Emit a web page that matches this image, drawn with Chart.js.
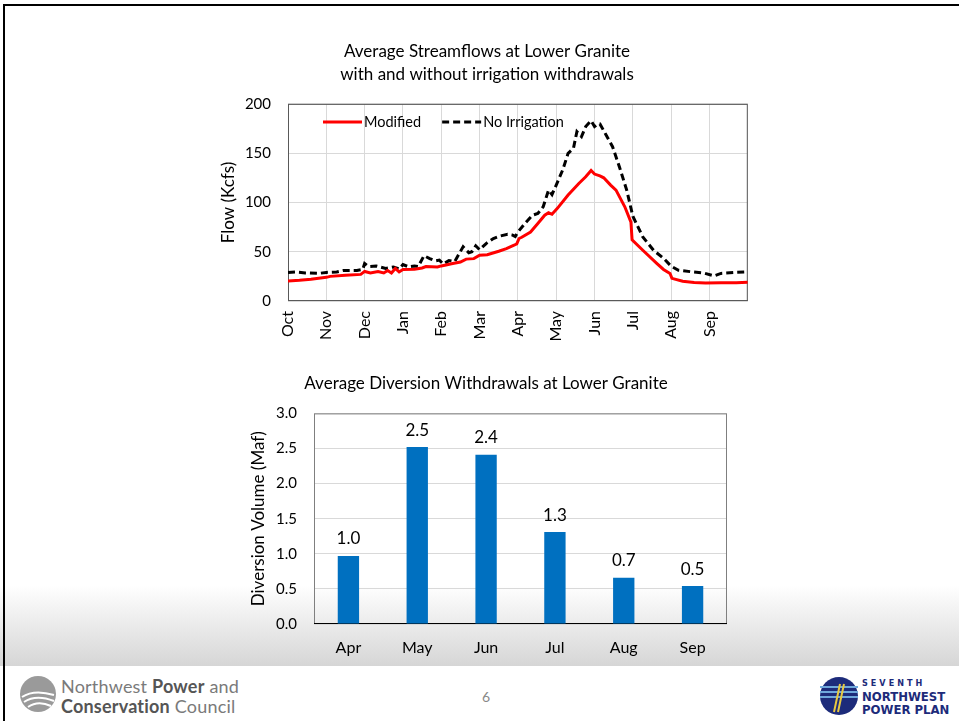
<!DOCTYPE html>
<html>
<head>
<meta charset="utf-8">
<script src="https://cdn.jsdelivr.net/npm/chart.js@4.4.1/dist/chart.umd.min.js"></script>
<style>
    body { margin: 0; background: #fff; }
    #slide { position: relative; width: 959px; height: 721px; overflow: hidden; background: #fff; font-family: Lato, "Open Sans", sans-serif; }
    #shade { position: absolute; left: 0; top: 585px; width: 959px; height: 81px; background: linear-gradient(#ffffff, #d6d6d6); }
    #edgeTop { position: absolute; left: 3px; top: 4px; width: 956px; height: 2px; background: #000; }
    #edgeLeft { position: absolute; left: 3px; top: 4px; width: 2px; height: 717px; background: #000; }
    #flowBox { position: absolute; left: 217px; top: 30px; }
    #diversionBox { position: absolute; left: 245px; top: 365px; }
    #council { position: absolute; left: 61px; top: 676px; font-size: 18px; line-height: 20px; color: #7a7a7a; letter-spacing: 0.2px; }
    #council b { color: #555; }
    #pageNo { position: absolute; left: 482px; top: 688px; font-size: 14px; color: #888; }
    #planText { position: absolute; left: 862px; top: 677px; color: #1d2b7a; font-family: "Liberation Sans Narrow", "DejaVu Sans Condensed", sans-serif; font-weight: bold; line-height: 13px; }
</style>
</head>
<body>
<div id="slide">
    <div id="shade"></div>
    <div id="edgeTop"></div>
    <div id="edgeLeft"></div>

    <div id="flowBox"><canvas id="flowChart" width="560" height="340"></canvas></div>
    <div id="diversionBox"><canvas id="diversionChart" width="495" height="300"></canvas></div>

    <svg style="position:absolute;left:18px;top:673px" width="40" height="42">
        <circle cx="20" cy="21" r="18" fill="#9a9a9a"/>
        <path d="M4 24 Q16 16 36 22" stroke="#fff" stroke-width="2" fill="none"/>
        <path d="M6 29 Q18 21 36 28" stroke="#fff" stroke-width="2" fill="none"/>
        <path d="M10 34 Q20 27 33 33" stroke="#fff" stroke-width="2" fill="none"/>
    </svg>
    <div id="council"><div>Northwest <b>Power</b> and</div><div><b>Conservation</b> Council</div></div>
    <div id="pageNo">6</div>

    <svg style="position:absolute;left:818px;top:674px" width="42" height="44">
        <circle cx="21" cy="22" r="19" fill="#1d2b7a"/>
        <rect x="2" y="12" width="38" height="2" fill="#6fa8dc"/>
        <rect x="2" y="17" width="38" height="2" fill="#6fa8dc"/>
        <rect x="2" y="22" width="38" height="2" fill="#6fa8dc"/>
        <path d="M22 10 L16 38 M26 10 L20 38" stroke="#e8c840" stroke-width="2"/>
    </svg>
    <div id="planText">
        <div style="font-size:9px;letter-spacing:3px">SEVENTH</div>
        <div style="font-size:13px">NORTHWEST</div>
        <div style="font-size:13px">POWER PLAN</div>
    </div>
</div>

<script>
Chart.defaults.font.family = 'Lato, "Open Sans", sans-serif'
Chart.defaults.color = '#000'

// streamflow chart: x is months after Oct 1 (0..12), flow in kcfs
const monthLabels = ['Oct', 'Nov', 'Dec', 'Jan', 'Feb', 'Mar', 'Apr', 'May', 'Jun', 'Jul', 'Aug', 'Sep']

const modifiedX = [0, 0.3, 0.6, 0.9, 1.0, 1.1, 1.5, 1.9, 2.0, 2.15, 2.35, 2.5, 2.6, 2.7, 2.8, 2.9,
    3.0, 3.3, 3.5, 3.6, 3.9, 4.0, 4.3, 4.5, 4.65, 4.85, 5.0, 5.2, 5.5, 5.7, 5.9, 5.97,
    6.03, 6.1, 6.33, 6.52, 6.7, 6.8, 6.89, 7.03, 7.31, 7.59, 7.77, 7.91, 8.0, 8.14, 8.24,
    8.42, 8.56, 8.79, 8.95, 8.98, 9.26, 9.63, 9.8, 9.97, 10.02, 10.3, 10.6, 10.9, 11.3, 11.7, 12]
const modifiedFlow = [20.3, 21, 22, 23.5, 24, 25, 26.2, 27, 30, 28.5, 30, 28.5, 31, 28.5, 33, 29.5,
    32, 32.3, 33.5, 35, 34.6, 35.6, 38, 39.5, 42.5, 43, 46.4, 47, 50.5, 53.2, 56.6, 58,
    63.4, 64.7, 70, 78.6, 87, 89.5, 88, 94, 107.5, 119.3, 126, 132.5, 128.8, 127, 125,
    117.6, 112.5, 95.6, 80, 62, 51.5, 38, 32, 28, 23, 20, 18.8, 18.3, 18.6, 18.6, 19]

const noIrrigationX = [0, 0.2, 0.45, 0.8, 1.0, 1.27, 1.45, 1.8, 1.95, 2.0, 2.1, 2.3, 2.55, 2.75, 2.9,
    3.0, 3.15, 3.3, 3.4, 3.55, 3.7, 3.85, 3.95, 4.05, 4.2, 4.35, 4.57, 4.72, 4.8, 4.9, 5.0,
    5.17, 5.36, 5.54, 5.73, 5.85, 5.93, 6.0, 6.19, 6.38, 6.52, 6.66, 6.8, 6.89, 7.0, 7.17,
    7.31, 7.45, 7.54, 7.66, 7.77, 7.91, 8.0, 8.1, 8.14, 8.28, 8.47, 8.65, 8.84, 9.0, 9.26,
    9.54, 9.81, 10.0, 10.19, 10.56, 10.84, 11.12, 11.3, 11.67, 12]
const noIrrigationFlow = [29, 29.5, 28.5, 28, 29, 29.5, 31, 31, 32, 38, 35, 35.5, 33, 34.5, 32.5,
    37, 34.6, 35.6, 35, 46, 43, 40.7, 41.5, 37.5, 41, 40, 55, 49, 50, 56, 52,
    58.3, 63.4, 66, 67.8, 67, 65.5, 70, 79, 87, 88.8, 95.6, 112.5, 108, 117.6, 133,
    149.8, 155, 171.9, 166.8, 177, 183, 177, 180, 179.7, 170, 156.6, 136, 112.5, 86, 65,
    51.5, 43, 35.3, 31.2, 29.5, 28.5, 25.5, 28, 29, 29.5]

// diversion chart
const diversionMonths = ['Apr', 'May', 'Jun', 'Jul', 'Aug', 'Sep']
const diversionVolume = [0.97, 2.52, 2.41, 1.31, 0.66, 0.54]

function toPoints(xs, ys) {
    return xs.map((x, i) => ({ x: x, y: ys[i] }))
}

// box around the plot area, like the excel chart
const plotFrame = {
    id: 'plotFrame',
    beforeDatasetsDraw(chart, args, opts) {
        const { ctx, chartArea } = chart
        ctx.save()
        ctx.strokeStyle = opts.color
        ctx.lineWidth = 1
        ctx.strokeRect(chartArea.left + 0.5, chartArea.top + 0.5, chartArea.width - 1, chartArea.height - 1)
        ctx.strokeStyle = opts.axisColor
        ctx.beginPath()
        ctx.moveTo(chartArea.left, chartArea.bottom - 0.5)
        ctx.lineTo(chartArea.right, chartArea.bottom - 0.5)
        ctx.stroke()
        ctx.restore()
    }
}

// legend drawn inside the plot, top left
const insideLegend = {
    id: 'insideLegend',
    afterDatasetsDraw(chart, args, opts) {
        const { ctx, chartArea } = chart
        let x = chartArea.left + opts.offsetX
        const y = chartArea.top + opts.offsetY
        ctx.save()
        ctx.font = opts.fontSize + 'px ' + Chart.defaults.font.family
        ctx.textBaseline = 'middle'
        chart.data.datasets.forEach((ds) => {
            ctx.strokeStyle = ds.borderColor
            ctx.lineWidth = ds.borderWidth
            ctx.setLineDash(ds.borderDash || [])
            ctx.beginPath()
            ctx.moveTo(x, y)
            ctx.lineTo(x + opts.lineLength, y)
            ctx.stroke()
            ctx.setLineDash([])
            ctx.fillStyle = '#000'
            ctx.fillText(ds.label, x + opts.lineLength + 2, y)
            x += opts.lineLength + 2 + ctx.measureText(ds.label).width + opts.gap
        })
        ctx.restore()
    }
}

// value labels over the bars
const barLabels = {
    id: 'barLabels',
    afterDatasetsDraw(chart) {
        const { ctx } = chart
        const meta = chart.getDatasetMeta(0)
        ctx.save()
        ctx.font = '17px ' + Chart.defaults.font.family
        ctx.fillStyle = '#000'
        ctx.textAlign = 'center'
        ctx.textBaseline = 'middle'
        meta.data.forEach((bar, i) => {
            ctx.fillText(chart.data.datasets[0].data[i].toFixed(1), bar.x, bar.y - 17)
        })
        ctx.restore()
    }
}

new Chart(document.getElementById('flowChart'), {
    type: 'line',
    data: {
        datasets: [
            {
                label: 'Modified',
                data: toPoints(modifiedX, modifiedFlow),
                borderColor: '#ff0000',
                borderWidth: 3,
                pointRadius: 0,
                tension: 0,
            },
            {
                label: 'No Irrigation',
                data: toPoints(noIrrigationX, noIrrigationFlow),
                borderColor: '#000000',
                borderWidth: 3,
                borderDash: [7, 4],
                pointRadius: 0,
                tension: 0,
            },
        ],
    },
    options: {
        responsive: false,
        animation: false,
        layout: { padding: { left: 0, right: 20, top: 0, bottom: 0 } },
        plugins: {
            legend: { display: false },
            tooltip: { enabled: false },
            title: {
                display: true,
                text: ['Average Streamflows at Lower Granite', 'with and without irrigation withdrawals'],
                color: '#000',
                font: { size: 17, weight: 'normal', lineHeight: 1.35 },
                padding: { top: 10, bottom: 18 },
            },
            plotFrame: { color: '#595959', axisColor: '#595959' },
            insideLegend: { offsetX: 35, offsetY: 18, lineLength: 39, gap: 21, fontSize: 14.5 },
        },
        scales: {
            x: {
                type: 'linear',
                min: 0,
                max: 12,
                afterBuildTicks: (scale) => {
                    scale.ticks = monthLabels.map((m, i) => ({ value: i })).concat([{ value: 12 }])
                },
                afterFit: (scale) => { scale.height = 69 },
                ticks: {
                    callback: (value) => monthLabels[value] || '',
                    minRotation: 90,
                    maxRotation: 90,
                    autoSkip: false,
                    padding: 10,
                    font: { size: 16 },
                },
                grid: { color: '#d9d9d9', drawTicks: false },
                border: { display: false },
            },
            y: {
                min: 0,
                max: 200,
                afterFit: (scale) => { scale.width = 71 },
                ticks: { stepSize: 50, padding: 17, font: { size: 15 } },
                grid: { color: '#d9d9d9', drawTicks: false },
                border: { display: false },
                title: {
                    display: true,
                    text: 'Flow (Kcfs)',
                    font: { size: 17 },
                    padding: { top: 1, bottom: 0 },
                },
            },
        },
    },
    plugins: [plotFrame, insideLegend],
})

new Chart(document.getElementById('diversionChart'), {
    type: 'bar',
    data: {
        labels: diversionMonths,
        datasets: [
            {
                label: 'Diversion Volume',
                data: diversionVolume,
                backgroundColor: '#0070c0',
                categoryPercentage: 1,
                barPercentage: 0.31,
            },
        ],
    },
    options: {
        responsive: false,
        animation: false,
        layout: { padding: { left: 0, right: 13, top: 0, bottom: 0 } },
        plugins: {
            legend: { display: false },
            tooltip: { enabled: false },
            title: {
                display: true,
                text: 'Average Diversion Withdrawals at Lower Granite',
                color: '#000',
                font: { size: 17, weight: 'normal', lineHeight: 1.2 },
                padding: { top: 8, bottom: 20 },
            },
            plotFrame: { color: '#7f7f7f', axisColor: '#000' },
        },
        scales: {
            x: {
                afterFit: (scale) => { scale.height = 41 },
                ticks: { padding: 14, font: { size: 16 } },
                grid: { display: false, drawTicks: false },
                border: { display: false },
            },
            y: {
                min: 0,
                max: 3,
                afterFit: (scale) => { scale.width = 69 },
                ticks: { stepSize: 0.5, padding: 17, font: { size: 15 }, callback: (v) => v.toFixed(1) },
                grid: { color: '#d9d9d9', drawTicks: false },
                border: { display: false },
                title: {
                    display: true,
                    text: 'Diversion Volume (Maf)',
                    font: { size: 17 },
                    padding: { top: 3, bottom: 0 },
                },
            },
        },
    },
    plugins: [plotFrame, barLabels],
})
</script>
</body>
</html>
